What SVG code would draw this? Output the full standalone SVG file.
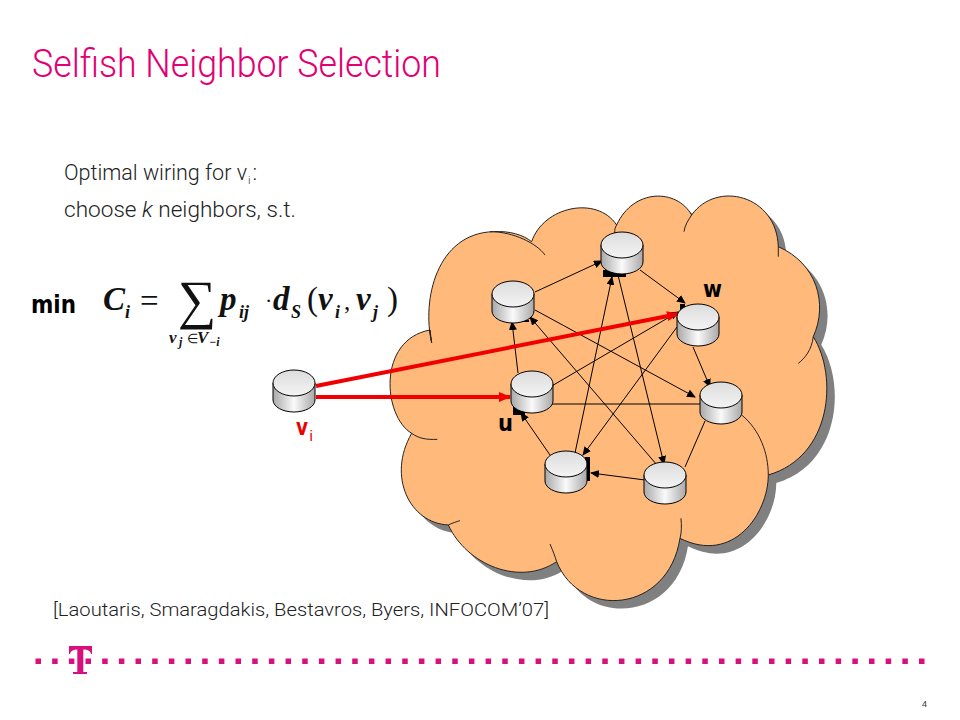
<svg xmlns="http://www.w3.org/2000/svg" width="960" height="720" viewBox="0 0 960 720">
<style>
.t{font-family:"Roboto","Liberation Sans",sans-serif;font-weight:300;fill:#222}
.m{font-family:"Liberation Serif",serif;font-style:italic;font-weight:bold;fill:#111}
.r{font-family:"Liberation Serif",serif;fill:#111}
.b{font-family:"DejaVu Sans",sans-serif;font-weight:bold}
.e{stroke:#000;stroke-width:1;fill:none;marker-end:url(#a)}
.n{stroke:#000;stroke-width:1;fill:none}
.red{stroke:#f00000;stroke-width:4;fill:none;marker-end:url(#ra)}
.crease{fill:none;stroke:#222;stroke-width:3}
</style>
<defs>
<marker id="a" markerWidth="9" markerHeight="8" refX="8" refY="4" orient="auto" markerUnits="userSpaceOnUse"><path d="M0 0L9 4L0 8Z" fill="#000"/></marker>
<marker id="ra" markerWidth="12" markerHeight="10" refX="11" refY="5" orient="auto" markerUnits="userSpaceOnUse"><path d="M0 0L12 5L0 10Z" fill="#f00000"/></marker>
<linearGradient id="side" x1="0" x2="1" y1="0" y2="0"><stop offset="0" stop-color="#a8a8a8"/><stop offset=".5" stop-color="#fafafa"/><stop offset="1" stop-color="#a8a8a8"/></linearGradient>
<linearGradient id="top" x1="0" x2="0" y1="0" y2="1"><stop offset="0" stop-color="#dcdcdc"/><stop offset="1" stop-color="#f4f4f4"/></linearGradient>
<g id="cyl">
<path d="M-21-8V9C-21 16-11 21 0 21S21 16 21 9V-8Z" fill="url(#side)" stroke="#000"/>
<ellipse cx="0" cy="-8" rx="21" ry="13" fill="url(#top)" stroke="#000"/>
</g>
<path id="cloudp" d="M155 458C125 330 170 130 340 125C390 122 430 135 455 155C490 50 650 15 710 105C760-5 890-5 935 75C1010-30 1190 15 1195 170C1310 220 1345 340 1300 440C1375 560 1355 800 1165 855C1165 970 1060 1125 900 1045C865 1270 600 1290 530 1115C420 1190 260 1125 205 1005C90 1000 20 860 95 730C10 680-10 450 150 420Z"/>
</defs>
<rect width="960" height="720" fill="#fff"/>
<text x="32" y="77" font-size="38" fill="#e20074" textLength="409" lengthAdjust="spacingAndGlyphs" style="font-family:Roboto,'Liberation Sans',sans-serif;font-weight:300">Selfish Neighbor Selection</text>
<text class="t" x="64" y="180" font-size="22" textLength="183" lengthAdjust="spacingAndGlyphs">Optimal wiring for v</text>
<text class="t" x="248" y="184" font-size="11">i</text>
<text class="t" x="252.500" y="180" font-size="22">:</text>
<text class="t" x="64" y="217" font-size="22" textLength="232" lengthAdjust="spacingAndGlyphs">choose <tspan font-style="italic">k</tspan> neighbors, s.t.</text>
<text class="b" x="31" y="313" font-size="25" fill="#000" textLength="45" lengthAdjust="spacingAndGlyphs">min</text>
<g id="formula">
<text class="r" x="103" y="310" font-size="33" font-style="italic" font-weight="bold">C</text>
<text class="m" x="125" y="318" font-size="18">i</text>
<text class="r" x="140" y="312" font-size="33">=</text>
<text class="r" x="178" y="318" font-size="54">∑</text>
<text class="m" x="220" y="310" font-size="33">p</text>
<text class="m" x="239" y="318" font-size="18">ij</text>
<text class="r" x="265" y="308" font-size="22">·</text>
<text class="m" x="273" y="310" font-size="33">d</text>
<text class="m" x="291" y="318" font-size="18">S</text>
<text class="r" x="307" y="310" font-size="33">(</text>
<text class="m" x="318" y="310" font-size="33">v</text>
<text class="m" x="335" y="318" font-size="18">i</text>
<text class="r" x="344" y="310" font-size="25">,</text>
<text class="m" x="356" y="310" font-size="33">v</text>
<text class="m" x="373" y="318" font-size="18">j</text>
<text class="r" x="387" y="310" font-size="33">)</text>
<text class="m" x="169" y="343" font-size="17">v</text>
<text class="m" x="179" y="346" font-size="12">j</text>
<text class="r" x="187" y="343" font-size="13">∈</text>
<text class="m" x="197" y="343" font-size="17">V</text>
<text class="m" x="209" y="346" font-size="12">−i</text>
</g>
<g id="cloud">
<use href="#cloudp" transform="translate(388 198) scale(.3333)" fill="#808080"/>
<g transform="translate(380 190) scale(.3333)">
<use href="#cloudp" fill="#ffb97a" stroke="#222" stroke-width="3"/>
<path class="crease" d="M330 125C400 125 470 160 495 195M710 105C700 120 705 135 710 140M935 75C925 90 915 105 912 125M1195 170V200M1300 440C1295 480 1275 505 1255 520M1085 675C1140 720 1165 790 1165 855M900 1045C905 1030 905 1005 903 985M510 1062C520 1085 525 1100 530 1115M205 1005C215 1000 230 995 240 992M95 730C115 745 140 750 172 748M150 420C150 435 153 445 155 458"/>
</g>
</g>
<g id="connectors">
<path class="e" d="M535 292L602 261"/>
<path class="e" d="M640 270L685 303"/>
<path class="e" d="M693 347L710 387"/>
<path class="e" d="M535 310L695 397"/>
<path class="e" d="M657 465L530 317"/>
<path class="e" d="M618 275L664 464"/>
<path class="e" d="M575 453L612 277"/>
<path class="e" d="M677 327L583 455"/>
<path class="e" d="M550 387L678 312"/>
<path class="e" d="M518 373L512 322"/>
<path class="n" d="M550 404H700"/>
<path class="n" d="M705 421L685 467"/>
<path class="e" d="M645 480L591 473"/>
<path class="e" d="M550 455L521 413"/>
<path d="M603 270h23v7h-23zM520 320h9v2h-9zM513 407h12v8h-12zM585 457h5v24h-5zM680 304h5v9h-5z" fill="#000"/>
<path class="red" d="M316 386L678 314"/>
<path class="red" d="M316 397H510"/>
</g>
<g id="A"><use href="#cyl" x="513" y="302"/></g>
<g id="B"><use href="#cyl" x="622" y="253"/></g>
<g id="W"><use href="#cyl" x="698" y="325"/><text class="b" x="703" y="297" font-size="23" fill="#000" textLength="19" lengthAdjust="spacingAndGlyphs">w</text></g>
<g id="X"><use href="#cyl" x="721" y="403"/></g>
<g id="U"><use href="#cyl" x="532" y="392"/><text class="b" x="498" y="431" font-size="23" fill="#000" textLength="15" lengthAdjust="spacingAndGlyphs">u</text></g>
<g id="V"><use href="#cyl" x="566" y="472"/></g>
<g id="Y"><use href="#cyl" x="665" y="483"/></g>
<g id="vi"><use href="#cyl" x="294" y="391"/><text class="b" x="296" y="435" font-size="23" fill="#f00000" textLength="12" lengthAdjust="spacingAndGlyphs">v</text><text x="309.500" y="441" font-size="15" fill="#f00000" style="font-family:'Liberation Sans',sans-serif">i</text></g>
<text class="t" x="53" y="616" font-size="19" textLength="496" lengthAdjust="spacingAndGlyphs">[Laoutaris, Smaragdakis, Bestavros, Byers, INFOCOM’07]</text>
<g id="logo" fill="#d8107e">
<line x1="35.500" y1="661.300" x2="925" y2="661.300" stroke="#d8107e" stroke-width="5.500" stroke-dasharray="5.500 11.170"/>
<path d="M69 646H92V654H91C90.500 651 88 649.500 83.300 649.500V672H87V674H73V672H77.300V649.500C73 649.500 70.500 651 70 654H69Z"/>
</g>
<text x="922" y="707" font-size="9" fill="#333" style="font-family:'Liberation Sans',sans-serif">4</text>
</svg>
